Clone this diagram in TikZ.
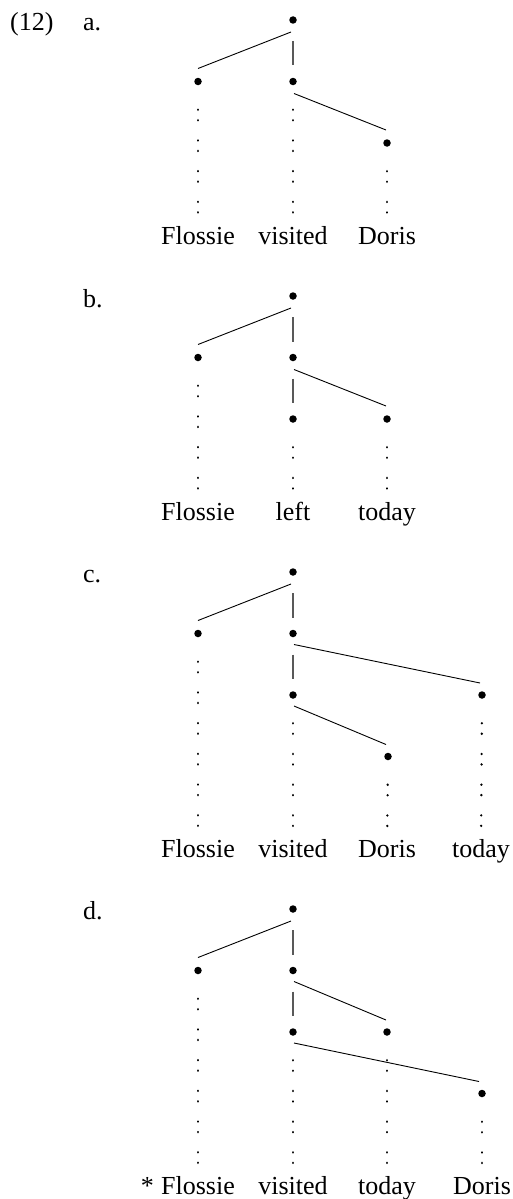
\documentclass[tikz,border=0pt]{standalone}
\usepackage{fontspec}
\setmainfont{Liberation Serif}
\newcommand\wfont{\fontsize{26}{30}\selectfont}
\begin{document}
\begin{tikzpicture}[x=1pt,y=-1pt,
  dot/.style={circle, fill=black, inner sep=0pt, minimum size=7.5pt},
  word/.style={font=\wfont, inner sep=0pt, text height=17pt, text depth=6pt, anchor=base},
  lbl/.style={font=\wfont, inner sep=0pt, anchor=base west},
  branch/.style={line width=0.9pt, black},
  vbranch/.style={line width=1.1pt, black!65},
  colon/.style={line width=2.5pt, line cap=round, dash pattern=on 0.1pt off 10.4pt on 0.1pt off 20.1pt, shorten <=24.25pt, shorten >=12pt}
]
\useasboundingbox (0,0) rectangle (513,1199);

% labels
\node[lbl] (n12) at (10,31) {(12)};
\node[lbl] (la) at (83,31) {a.};
\node[lbl] (lb) at (83,307) {b.};
\node[lbl] (lc) at (83,582) {c.};
\node[lbl] (ld) at (83,919) {d.};

% ---------- tree a ----------
\node[dot] (ar) at (293,20) {};
\node[dot] (af) at (198,81.5) {};
\node[dot] (av) at (293,81.5) {};
\node[dot] (ad) at (387,143) {};
\node[word] (awF) at (198,244) {Flossie};
\node[word] (awV) at (293,244) {visited};
\node[word] (awD) at (387,244) {Doris};
\draw[branch] ([xshift=-2pt,yshift=-12pt]ar.center) -- ([yshift=13pt]af.center);
\draw[vbranch] ([yshift=-21pt]ar.center) -- ([yshift=16pt]av.center);
\draw[branch] ([xshift=1pt,yshift=-12pt]av.center) -- ([xshift=-1pt,yshift=13pt]ad.center);
\draw[colon] (af) -- (awF);
\draw[colon] (av) -- (awV);
\draw[colon] (ad) -- (awD);

% ---------- tree b ----------
\node[dot] (br) at (293,296) {};
\node[dot] (bf) at (198,357.5) {};
\node[dot] (bv) at (293,357.5) {};
\node[dot] (bl) at (293,419) {};
\node[dot] (bt) at (387,419) {};
\node[word] (bwF) at (198,520) {Flossie};
\node[word] (bwL) at (293,520) {left};
\node[word] (bwT) at (387,520) {today};
\draw[branch] ([xshift=-2pt,yshift=-12pt]br.center) -- ([yshift=13pt]bf.center);
\draw[vbranch] ([yshift=-21pt]br.center) -- ([yshift=16pt]bv.center);
\draw[vbranch] ([yshift=-21pt]bv.center) -- ([yshift=16pt]bl.center);
\draw[branch] ([xshift=1pt,yshift=-12pt]bv.center) -- ([xshift=-1pt,yshift=13pt]bt.center);
\draw[colon] (bf) -- (bwF);
\draw[colon] (bl) -- (bwL);
\draw[colon] (bt) -- (bwT);

% ---------- tree c ----------
\node[dot] (cr) at (293,572) {};
\node[dot] (cf) at (198,633.5) {};
\node[dot] (cv) at (293,633.5) {};
\node[dot] (cv2) at (293,695) {};
\node[dot] (ct) at (482,695) {};
\node[dot] (cd) at (388,756.5) {};
\node[word] (cwF) at (198,857) {Flossie};
\node[word] (cwV) at (293,857) {visited};
\node[word] (cwD) at (387,857) {Doris};
\node[word] (cwT) at (481,857) {today};
\draw[branch] ([xshift=-2pt,yshift=-12pt]cr.center) -- ([yshift=13pt]cf.center);
\draw[vbranch] ([yshift=-21pt]cr.center) -- ([yshift=16pt]cv.center);
\draw[vbranch] ([yshift=-21pt]cv.center) -- ([yshift=16pt]cv2.center);
\draw[branch] ([xshift=1pt,yshift=-11pt]cv.center) -- ([xshift=-2pt,yshift=12pt]ct.center);
\draw[branch] ([xshift=1pt,yshift=-11pt]cv2.center) -- ([xshift=-2pt,yshift=12pt]cd.center);
\draw[colon] (cf) -- (cwF);
\draw[colon] (cv2) -- (cwV);
\draw[colon] (cd) -- (cwD);
\draw[colon] (ct) -- (cwT);

% ---------- tree d ----------
\node[dot] (dr) at (293,909) {};
\node[dot] (df) at (198,970.5) {};
\node[dot] (dv) at (293,970.5) {};
\node[dot] (dv2) at (293,1032) {};
\node[dot] (dt) at (387,1032) {};
\node[dot] (dd) at (482,1093.5) {};
\node[word] (dwF) at (198,1194) {Flossie};
\node[word] (dwV) at (293,1194) {visited};
\node[word] (dwT) at (387,1194) {today};
\node[word] (dwD) at (482,1194) {Doris};
\node[font=\wfont, inner sep=0pt, anchor=base east] (star) at ([xshift=-7pt]dwF.base west) {*};
\draw[branch] ([xshift=-2pt,yshift=-12pt]dr.center) -- ([yshift=13pt]df.center);
\draw[vbranch] ([yshift=-21pt]dr.center) -- ([yshift=16pt]dv.center);
\draw[vbranch] ([yshift=-21pt]dv.center) -- ([yshift=16pt]dv2.center);
\draw[branch] ([xshift=1pt,yshift=-11pt]dv.center) -- ([xshift=-1pt,yshift=12pt]dt.center);
\draw[branch] ([xshift=1pt,yshift=-11pt]dv2.center) -- ([xshift=-3pt,yshift=12pt]dd.center);
\draw[colon] (df) -- (dwF);
\draw[colon] (dv2) -- (dwV);
\draw[colon] (dt) -- (dwT);
\draw[colon] (dd) -- (dwD);
\end{tikzpicture}
\end{document}
